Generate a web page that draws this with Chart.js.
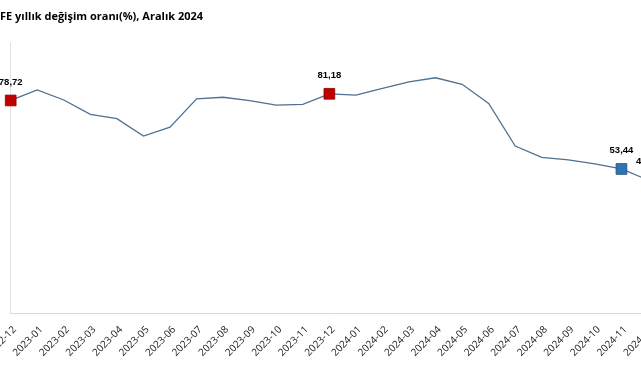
<!DOCTYPE html>
<html><head><meta charset="utf-8">
<script src="https://cdn.jsdelivr.net/npm/chart.js@4/dist/chart.umd.min.js"></script>
<style>
html,body{margin:0;padding:0;background:#fff;overflow:hidden;width:641px;height:380px}
#wrap{position:absolute;left:0;top:0;width:700px;height:380px}
</style></head><body>
<div id="wrap"><canvas id="c"></canvas></div>
<script>
const titleText = 'FE yıllık değişim oranı(%), Aralık 2024';
const categories = ['2022-12','2023-01','2023-02','2023-03','2023-04','2023-05','2023-06','2023-07','2023-08','2023-09','2023-10','2023-11','2023-12','2024-01','2024-02','2024-03','2024-04','2024-05','2024-06','2024-07','2024-08','2024-09','2024-10','2024-11','2024-12'];
const values = [78.72, 82.6, 78.9, 73.6, 72.0, 65.6, 68.9, 79.3, 79.9, 78.7, 77.0, 77.3, 81.18, 80.7, 83.2, 85.6, 87.1, 84.7, 77.6, 61.9, 57.7, 56.8, 55.3, 53.44, 49.38];
const redMarks = [0, 12];
const blueMarks = [23, 24];
const yMin = 0, yMax = 100;

const marked = redMarks.concat(blueMarks);
const radii = values.map((v,i)=> marked.includes(i) ? 7.6 : 0);
const fills = values.map((v,i)=> redMarks.includes(i) ? '#C00000' : '#2E75B6');
const borders = values.map((v,i)=> redMarks.includes(i) ? '#8B0000' : '#1F4E79');

const valueLabels = {
  id:'valueLabels',
  afterDatasetsDraw(chart){
    const ctx = chart.ctx;
    const meta = chart.getDatasetMeta(0);
    ctx.save();
    ctx.font = 'bold 9.5px "Liberation Sans", Arial, sans-serif';
    ctx.fillStyle = '#000';
    ctx.textAlign = 'center';
    ctx.textBaseline = 'middle';
    marked.forEach(i=>{
      const p = meta.data[i];
      ctx.fillText(values[i].toFixed(2).replace('.', ','), p.x, p.y - 18.5);
    });
    ctx.restore();
  }
};

new Chart(document.getElementById('c'), {
  type:'line',
  data:{ labels:categories, datasets:[{
    data:values,
    borderColor:'#50708F',
    borderWidth:1.3,
    tension:0,
    pointStyle:'rect',
    pointRadius:radii,
    pointHoverRadius:radii,
    pointBackgroundColor:fills,
    pointBorderColor:borders,
    pointBorderWidth:0.8,
    clip:false
  }]},
  options:{
    responsive:true, maintainAspectRatio:false, animation:false,
    events:[],
    layout:{ autoPadding:false, padding:{left:0, right:52, top:0, bottom:0} },
    plugins:{
      legend:{display:false}, tooltip:{enabled:false},
      title:{ display:true, text:titleText, align:'start', color:'#000',
        font:{family:'"Open Sans", sans-serif', size:11, weight:'bold'},
        padding:{top:10.6, bottom:19} }
    },
    scales:{
      x:{
        offset:false,
        grid:{display:false, drawTicks:false},
        border:{display:true, color:'#D9D9D9', width:1},
        ticks:{ autoSkip:false, minRotation:45, maxRotation:45, padding:10, labelOffset:4, color:'#1a1a1a',
          font:{family:'"Open Sans", sans-serif', size:10} },
        afterFit(s){ s.height = 66.2; s.paddingLeft = 0; s.paddingRight = 0; }
      },
      y:{
        min:yMin, max:yMax,
        grid:{display:false, drawTicks:false},
        border:{display:true, color:'#E3E3E3', width:1},
        ticks:{display:false},
        afterFit(s){ s.width = 10.7; s.paddingTop = 0; s.paddingBottom = 0; }
      }
    }
  },
  plugins:[valueLabels]
});
</script>
</body></html>
